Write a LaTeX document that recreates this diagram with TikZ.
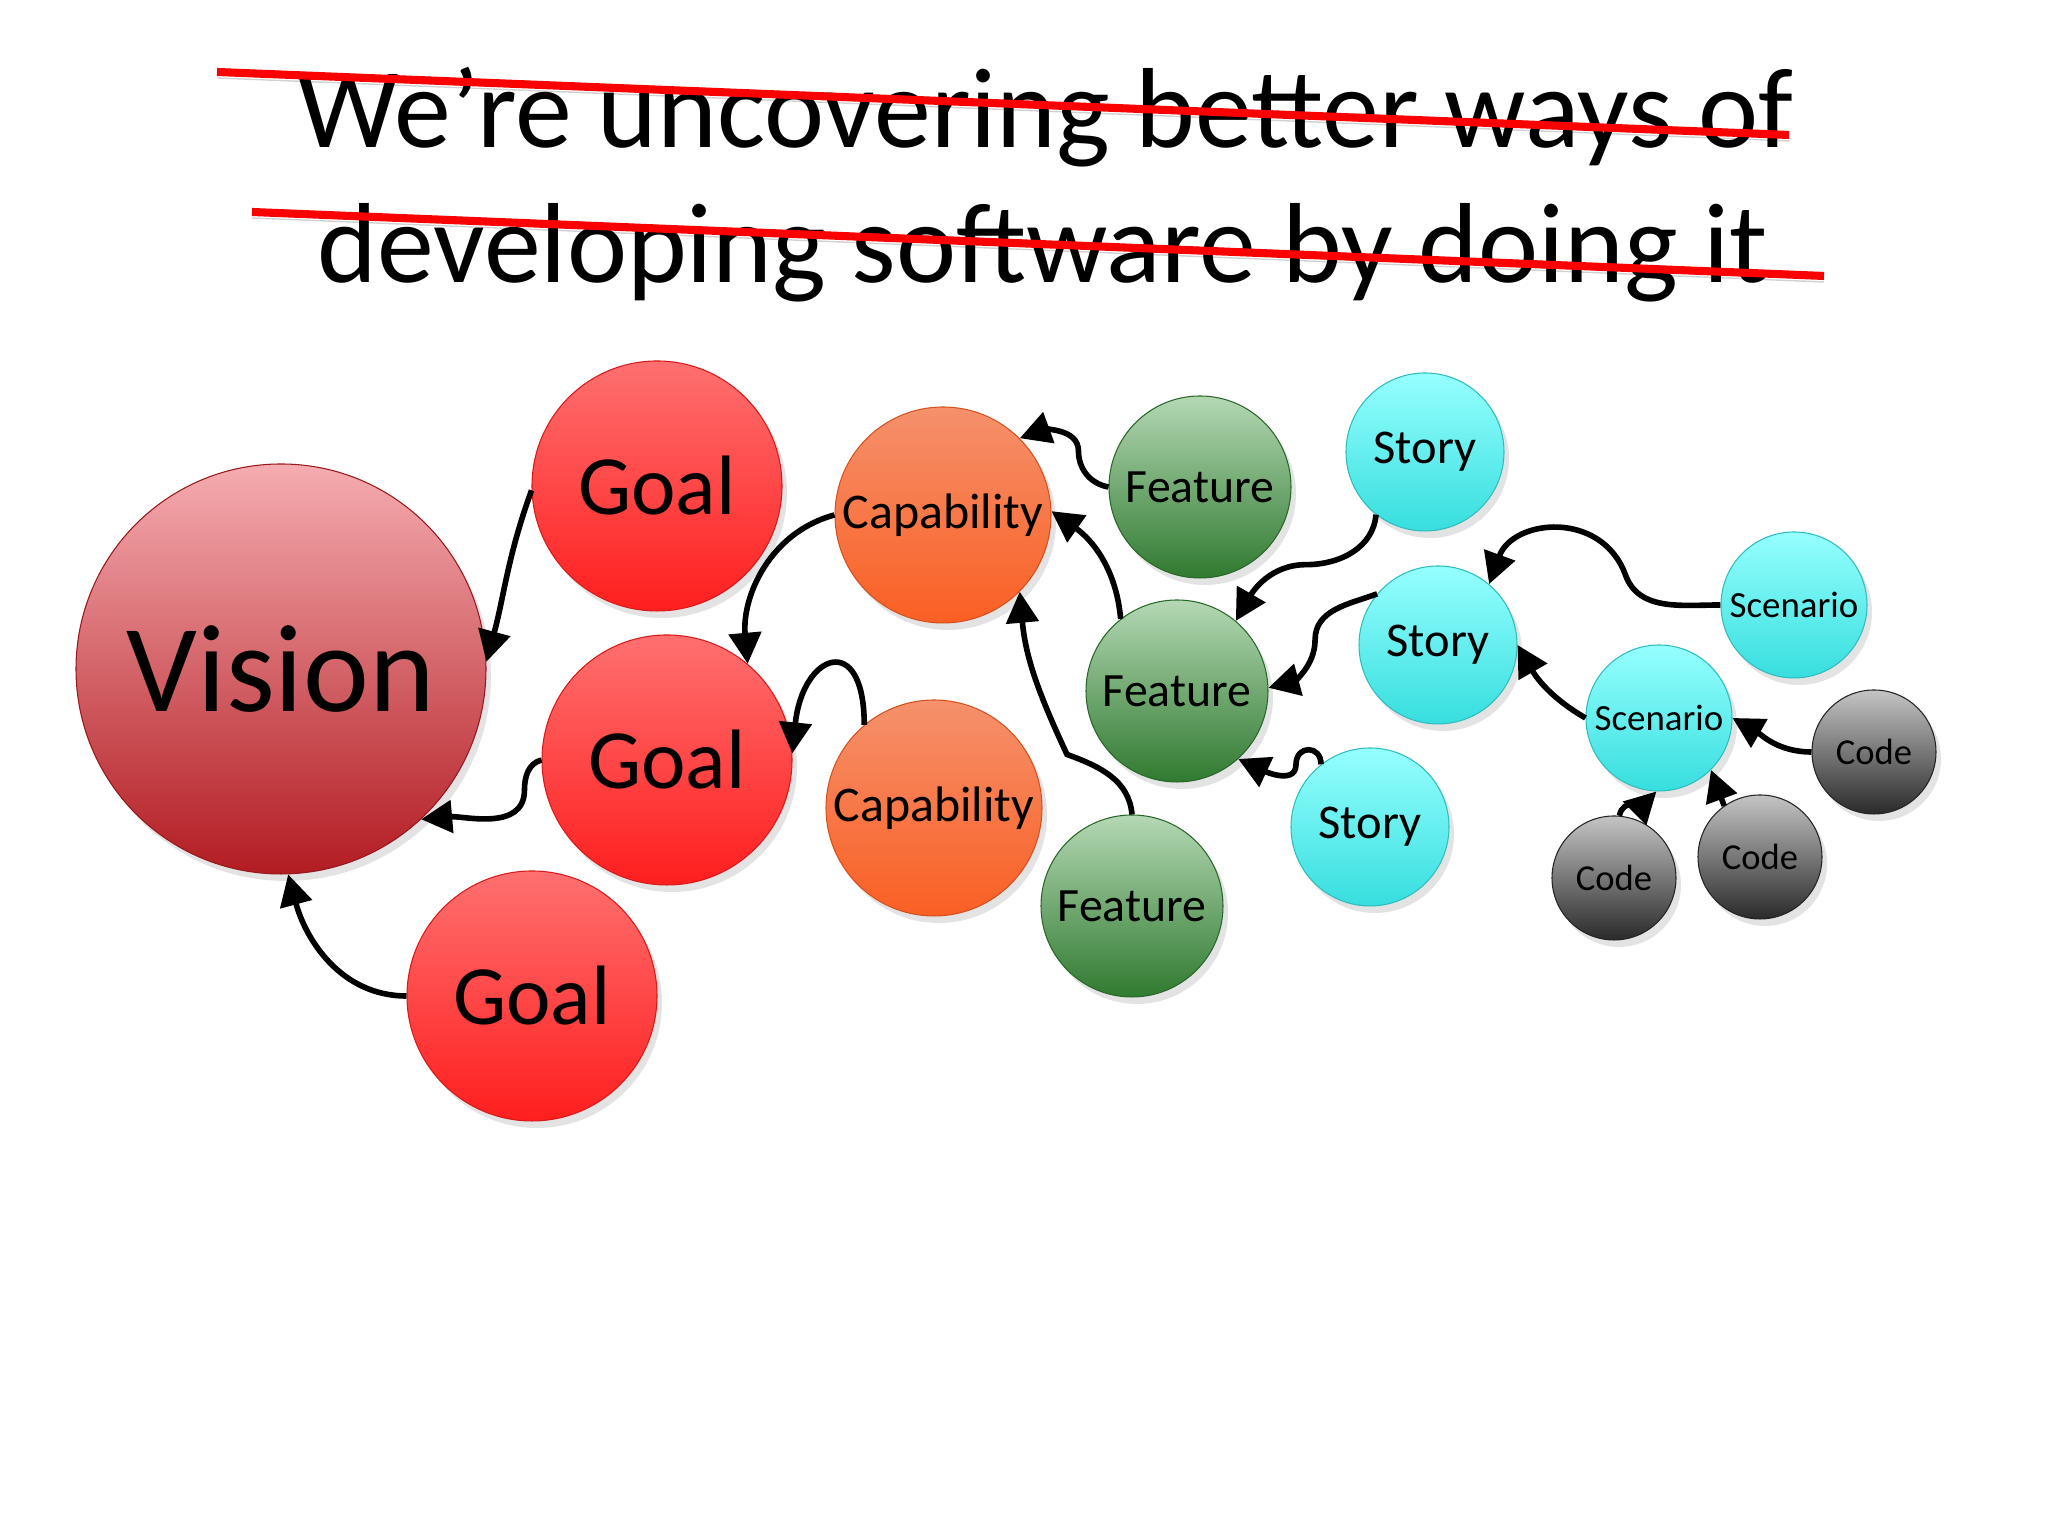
\documentclass[tikz,border=0pt]{standalone}
\usepackage{fontspec}
\setmainfont{Carlito}
\usetikzlibrary{arrows.meta,shadows}

\definecolor{visiontop}{RGB}{245,172,176}
\definecolor{visionbot}{RGB}{178,28,34}
\definecolor{goaltop}{RGB}{255,112,112}
\definecolor{goalbot}{RGB}{255,30,30}
\definecolor{captop}{RGB}{245,145,108}
\definecolor{capbot}{RGB}{250,95,35}
\definecolor{feattop}{RGB}{180,216,180}
\definecolor{featbot}{RGB}{48,122,48}
\definecolor{storytop}{RGB}{150,255,255}
\definecolor{storybot}{RGB}{55,222,222}
\definecolor{codetop}{RGB}{196,196,196}
\definecolor{codebot}{RGB}{42,42,42}
\definecolor{strikered}{RGB}{250,0,0}

\begin{document}
\begin{tikzpicture}[
    ball/.style={circle, inner sep=0pt, text=black, line width=0.3pt,
        drop shadow={opacity=0.22, shadow xshift=0.5mm, shadow yshift=-0.7mm}},
    vision/.style={ball, minimum size=4.10cm, font=\fontsize{35.5}{40}\selectfont,
        top color=visiontop, bottom color=visionbot, draw=visionbot!85!black},
    goal/.style={ball, minimum size=2.50cm, font=\fontsize{24}{28}\selectfont,
        top color=goaltop, bottom color=goalbot, draw=goalbot!85!black},
    capab/.style={ball, minimum size=2.16cm, font=\fontsize{14.2}{17}\selectfont,
        top color=captop, bottom color=capbot, draw=capbot!85!black},
    feature/.style={ball, minimum size=1.82cm, font=\fontsize{13.6}{16}\selectfont,
        top color=feattop, bottom color=featbot, draw=featbot!85!black},
    story/.style={ball, minimum size=1.58cm, font=\fontsize{13.8}{16}\selectfont,
        top color=storytop, bottom color=storybot, draw=storybot!85!black},
    scenario/.style={ball, minimum size=1.46cm, font=\fontsize{10.5}{12}\selectfont,
        top color=storytop, bottom color=storybot, draw=storybot!85!black},
    code/.style={ball, minimum size=1.24cm, font=\fontsize{10.4}{12}\selectfont,
        top color=codetop, bottom color=codebot, draw=codebot!85!black},
    link/.style={-{Triangle[length=3.1mm,width=3.2mm]}, line width=1.6pt},
    strike/.style={strikered, line width=2.3pt,
        preaction={draw=black, opacity=0.18, transform canvas={yshift=-0.6mm}}}
]
    % Page
    \useasboundingbox (0,0) rectangle (20.48,15.36);
    \fill[white] (0,0) rectangle (20.48,15.36);

    % Title, struck through
    \node[anchor=base, font=\fontsize{32.4}{38}\selectfont] (title1) at (10.45,13.88) {We’re uncovering better ways of};
    \node[anchor=base, font=\fontsize{32.4}{38}\selectfont] (title2) at (10.43,12.53) {developing software by doing it};
    \draw[strike] (2.17,14.64) -- (17.89,14.01);
    \draw[strike] (2.52,13.24) -- (18.24,12.60);

    % Bubbles
    \node[vision] (vision) at (2.81,8.67) {\raisebox{-1mm}{Vision}};
    \foreach \n/\x/\y in {goalA/6.57/10.50, goalB/6.67/7.76, goalC/5.32/5.40}
        \node[goal] (\n) at (\x,\y) {Goal};
    \foreach \n/\x/\y in {capA/9.43/10.21, capB/9.34/7.28}
        \node[capab] (\n) at (\x,\y) {Capability};
    \foreach \n/\x/\y in {featA/12.00/10.49, featB/11.77/8.45, featC/11.32/6.30}
        \node[feature] (\n) at (\x,\y) {Feature};
    \foreach \n/\x/\y in {storyA/14.25/10.84, storyB/14.38/8.91, storyC/13.70/7.09}
        \node[story] (\n) at (\x,\y) {Story};
    \foreach \n/\x/\y in {scenA/17.94/9.31, scenB/16.59/8.18}
        \node[scenario] (\n) at (\x,\y) {Scenario};
    \foreach \n/\x/\y in {codeA/18.74/7.84, codeB/16.14/6.58, codeC/17.60/6.79}
        \node[code] (\n) at (\x,\y) {Code};

    % Goals to vision
    \draw[link] (goalA.182) to[out=250,in=75] (vision.2);
    \draw[link] (goalB.180) to[out=195,in=90] +(-0.17,-0.3) to[out=-90,in=5] (vision.-47);
    \draw[link] (goalC.180) to[out=180,in=-75] (vision.-88);

    % Capabilities to goals
    \draw[link] (capA.180) to[out=195,in=95] (goalB.50);
    \draw[link] (capB.130) .. controls +(0,0.95) and +(0.1,1.0) .. (goalB.3);

    % Features to capabilities
    \draw[link] (featA.180) to[out=170,in=-90] +(-0.3,0.36) to[out=90,in=20] (capA.45);
    \draw[link] (featB.128) to[out=95,in=-35] (capA.2);
    \draw[link] (featC.90) to[out=95,in=-20] +(-0.65,0.6) to[out=115,in=-85] (capA.-45);

    % Stories to features
    \draw[link] (storyA.232) to[out=265,in=0] +(-0.7,-0.5) to[out=180,in=60] (featB.50);
    \draw[link] (storyB.140) to[out=200,in=90] +(-0.62,-0.46) to[out=-90,in=15] (featB.2);
    \draw[link] (storyC.128) to[out=90,in=90,looseness=2] +(-0.25,0) to[out=-90,in=-25] (featB.-48);

    % Scenarios to stories
    \draw[link] (scenA.180) to[out=180,in=-70] +(-0.95,0.3) to[out=110,in=70,looseness=1.3] (storyB.50);
    \draw[link] (scenB.180) to[out=150,in=-60] (storyB.0);

    % Code to scenarios
    \draw[link] (codeA.180) to[out=180,in=-30] (scenB.0);
    \draw[link] (codeB.85) to[out=80,in=225] (scenB.-92);
    \draw[link] (codeC.125) -- (scenB.-45);

\end{tikzpicture}
\end{document}
